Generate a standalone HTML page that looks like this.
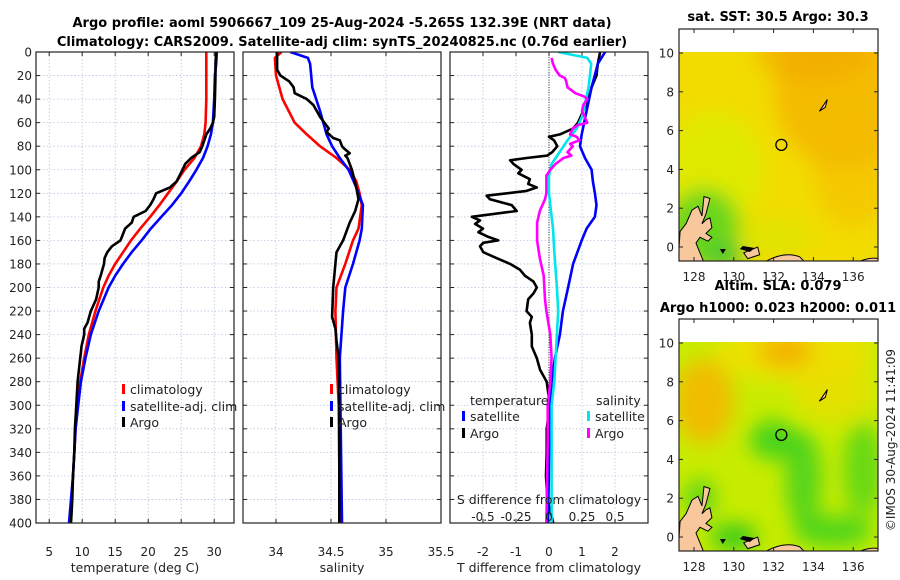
<!DOCTYPE html>
<html><head><meta charset="utf-8"><style>
html,body{margin:0;padding:0;background:#fff;}
svg{display:block;font-family:"DejaVu Sans","Liberation Sans",sans-serif;}
</style></head><body>
<svg id="fig" width="900" height="580" viewBox="0 0 900 580">
<defs>
<filter id="blur6" x="-20%" y="-20%" width="140%" height="140%"><feGaussianBlur stdDeviation="6"/></filter>
<filter id="blur10" x="-30%" y="-30%" width="160%" height="160%"><feGaussianBlur stdDeviation="10"/></filter>
<clipPath id="clipM1"><rect x="679" y="52" width="199" height="209"/></clipPath>
<clipPath id="clipM2"><rect x="679" y="342" width="199" height="209"/></clipPath>
<clipPath id="clipP1"><rect x="36" y="52" width="198" height="471"/></clipPath>
<clipPath id="clipP2"><rect x="243" y="52" width="198" height="471"/></clipPath>
<clipPath id="clipP3"><rect x="450" y="52" width="198" height="471"/></clipPath>
</defs>
<text x="342" y="27" text-anchor="middle" font-size="13" font-weight="bold">Argo profile: aoml 5906667_109 25-Aug-2024 -5.265S 132.39E (NRT data)</text>
<text x="342" y="46" text-anchor="middle" font-size="13" font-weight="bold">Climatology: CARS2009. Satellite-adj clim: synTS_20240825.nc (0.76d earlier)</text>
<g id="panels"></g>
<g id="maps"></g>
<text transform="translate(895,440) rotate(-90)" text-anchor="middle" font-size="12" fill="#222">©IMOS 30-Aug-2024 11:41:09</text>
</svg>
<script>
// ---------------- data ----------------
const yTicks = [0,20,40,60,80,100,120,140,160,180,200,220,240,260,280,300,320,340,360,380,400];
const tTicks = [5,10,15,20,25,30];
const sTicks = [34,34.5,35,35.5];
const sTickLabels = ["34","34.5","35","35.5"];
const dTicks = [-2,-1,0,1,2];
const dsTickLabels = ["-0.5","-0.25","0","0.25","0.5"];
const dsTickValues = [-0.5,-0.25,0,0.25,0.5];

const climTDepth = [0,10,20,40,60,70,80,90,100,110,120,130,140,150,160,170,180,190,200,220,240,260,280,300,320,340,360,380,400];
const climT = [28.8,28.8,28.8,28.8,28.7,28.5,28,27,25.5,24.3,23,21.7,20.3,18.8,17.4,16.2,15,14,13.2,12,11,10.3,9.7,9.3,9.0,8.8,8.6,8.4,8.2];
const satT = [30.4,30.3,30.1,30,29.8,29.5,29,28.3,27.3,26.2,25,23.6,22,20.4,19,17.5,16.2,15,14,12.5,11.3,10.5,9.8,9.4,9.0,8.8,8.6,8.3,8.0];
const argoTDepth = [0,10,20,40,55,60,65,70,80,85,90,95,100,110,115,120,125,130,135,140,145,150,160,165,170,175,180,190,195,200,210,220,230,235,240,250,255,260,270,280,300,320,340,360,380,400];
const argoT = [30.3,30.2,30.2,30.1,30,29.8,29.4,28.8,28.2,27.8,26.5,25.6,25.2,24.3,23.3,21.2,20.8,20.3,19.6,17.8,17.5,16.5,15.8,14.5,13.8,13.4,13.3,12.8,12.5,12.5,12.1,11.3,10.8,10.3,10.3,9.9,9.8,9.7,9.5,9.3,9.1,8.9,8.8,8.6,8.5,8.3];

const climSDepth = [0,5,20,40,60,70,80,90,100,110,120,130,150,160,180,200,220,260,300,400];
const climS = [34.05,33.99,34.0,34.06,34.17,34.28,34.40,34.55,34.67,34.73,34.76,34.78,34.75,34.70,34.63,34.55,34.54,34.55,34.57,34.58];
const satSDepth = [0,5,10,30,50,70,80,90,100,115,130,150,160,180,200,220,260,400];
const satS = [34.13,34.29,34.31,34.33,34.40,34.46,34.51,34.58,34.66,34.73,34.79,34.78,34.76,34.70,34.63,34.61,34.58,34.6];
const argoSDepth = [0,15,20,25,30,35,40,45,55,65,68,73,75,80,82,86,88,90,100,115,125,135,145,160,170,180,200,225,235,245,260,300,400];
const argoS = [34.01,34.01,34.04,34.12,34.16,34.17,34.28,34.34,34.40,34.48,34.46,34.52,34.58,34.60,34.62,34.67,34.63,34.65,34.69,34.73,34.75,34.72,34.67,34.61,34.55,34.54,34.52,34.51,34.54,34.55,34.57,34.575,34.575];

const satDTDepth = [0,10,30,50,70,80,90,100,110,120,130,140,150,160,180,200,220,240,260,280,300,400];
const satDT = [1.7,1.48,1.29,1.14,0.99,0.94,1.09,1.29,1.33,1.39,1.44,1.39,1.14,0.99,0.73,0.58,0.42,0.33,0.18,0.08,0.03,-0.03];
const argoDTDepth = [0,10,20,30,40,50,60,65,70,72,75,80,85,88,90,92,95,100,103,108,112,115,118,120,122,125,130,135,140,143,146,150,153,157,160,162,165,170,175,180,185,190,195,200,205,210,220,225,230,240,250,260,270,280,290,300,310,320,330,340,360,380,400];
const argoDT = [1.55,1.48,1.44,1.29,1.19,1.04,0.88,0.73,0.33,0,0.15,0.25,0.1,-0.05,-0.68,-1.18,-1.08,-0.83,-0.93,-0.58,-0.63,-0.37,-0.68,-1.28,-1.89,-1.79,-1.13,-0.98,-2.34,-2.09,-2.24,-2.0,-2.14,-1.84,-1.54,-1.99,-2.09,-1.99,-1.59,-1.18,-0.88,-0.73,-0.47,-0.37,-0.47,-0.63,-0.68,-0.52,-0.58,-0.52,-0.52,-0.37,-0.27,-0.07,-0.02,0.03,-0.02,-0.07,-0.07,-0.07,-0.09,-0.05,0.13];
const satDSDepth = [0,5,10,20,30,40,55,65,75,85,95,105,120,130,150,170,200,220,240,260,280,300,350,400];
const satDS = [0.07,0.29,0.32,0.31,0.30,0.28,0.25,0.21,0.14,0.08,0.02,0,0,0.01,0.03,0.04,0.06,0.07,0.06,0.05,0.04,0.02,0.02,0.02];
const argoDSDepth = [5,10,15,20,22,25,30,35,38,40,45,50,55,60,62,65,70,72,75,78,80,85,88,90,95,100,105,110,120,125,135,145,160,175,190,210,220,240,260,280,300,330,400];
const argoDS = [0.02,0.03,0.05,0.08,0.12,0.13,0.14,0.20,0.27,0.29,0.26,0.25,0.27,0.29,0.22,0.18,0.16,0.21,0.23,0.16,0.18,0.14,0.17,0.11,0.05,0.01,-0.02,-0.02,-0.02,-0.03,-0.07,-0.09,-0.09,-0.07,-0.04,-0.03,-0.02,0.01,0.02,0.01,-0.01,-0.01,-0.02];

const mapLonTicks = [128,130,132,134,136];
const mapLatTicks = [0,2,4,6,8,10];
const argoLon = 132.39, argoLat = 5.265;

// ---------------- helpers ----------------
const NS = "http://www.w3.org/2000/svg";
function mk(tag, attrs, parent){const e=document.createElementNS(NS,tag);for(const k in attrs)e.setAttribute(k,attrs[k]);parent.appendChild(e);return e;}
const yDepth = d => 52 + d*(471/400);
const panelsG = document.getElementById('panels');
const mapsG = document.getElementById('maps');

function panel(x0, name, xmin, xmax, xTickVals, xTickLabs, xlabel, showY){
  const g = mk('g',{},panelsG);
  
  
  const W=198, sx = v => x0 + (v-xmin)/(xmax-xmin)*W;
  // grid
  yTicks.forEach(d=>{const l=mk('line',{x1:x0,x2:x0+W,y1:yDepth(d),y2:yDepth(d),stroke:'#b8c4e0','stroke-width':0.8,'stroke-dasharray':'1.5,2'},g);
    
    });
  xTickVals.forEach(v=>{const l=mk('line',{x1:sx(v),x2:sx(v),y1:52,y2:523,stroke:'#b8c4e0','stroke-width':0.8,'stroke-dasharray':'1.5,2'},g);
    
    });
  // ticks
  yTicks.forEach(d=>{mk('line',{x1:x0,x2:x0+4,y1:yDepth(d),y2:yDepth(d),stroke:'#222'},g);mk('line',{x1:x0+W-4,x2:x0+W,y1:yDepth(d),y2:yDepth(d),stroke:'#222'},g);
    if(showY){const t=mk('text',{x:x0-4,y:yDepth(d)+4.5,'text-anchor':'end','font-size':12,fill:'#222'},g);t.textContent=d;
      
      }});
  xTickVals.forEach((v,i)=>{mk('line',{x1:sx(v),x2:sx(v),y1:519,y2:523,stroke:'#222'},g);mk('line',{x1:sx(v),x2:sx(v),y1:52,y2:56,stroke:'#222'},g);
    if(xTickLabs){const t=mk('text',{x:sx(v),y:556,'text-anchor':'middle','font-size':12,fill:'#222'},g);t.textContent=xTickLabs[i];
      
      }});
  const xl=mk('text',{x:x0+W/2,y:572,'text-anchor':'middle','font-size':12.5,fill:'#222'},g);xl.textContent=xlabel;
  
  
  return {g,sx};
}
function line(p, clip, xs, ds, sxf, color, name, w){
  const pts = xs.map((v,i)=>sxf(v).toFixed(1)+','+yDepth(ds[i]).toFixed(1)).join(' ');
  const e = mk('polyline',{points:pts,fill:'none',stroke:color,'stroke-width':w||2.6,'stroke-linejoin':'round','clip-path':'url(#'+clip+')'},p);
  
  
}
function frame(p,x0){const r=mk('rect',{x:x0,y:52,width:198,height:471,fill:'none',stroke:'#222','stroke-width':1.2},p);
  
  }
function legendItem(p,x,y,color,label){
  mk('rect',{x:x,y:y-10,width:3,height:10,fill:color},p);
  const t=mk('text',{x:x+8,y:y,'font-size':12.5,fill:'#222'},p);t.textContent=label;
  
  
}

// Panel 1: temperature
const P1 = panel(36,'temperature-panel',3,33,tTicks,tTicks.map(String),'temperature (deg C)',true);
line(P1.g,'clipP1',climT,climTDepth,P1.sx,'#ff0000','climatology-temp-line');
line(P1.g,'clipP1',satT,climTDepth,P1.sx,'#0000ff','satellite-temp-line');
line(P1.g,'clipP1',argoT,argoTDepth,P1.sx,'#000000','argo-temp-line');
frame(P1.g,36);
legendItem(P1.g,122,394,'#ff0000','climatology');
legendItem(P1.g,122,411,'#0000ff','satellite-adj. clim');
legendItem(P1.g,122,427,'#000000','Argo');

// Panel 2: salinity
const P2 = panel(243,'salinity-panel',33.7,35.5,sTicks,sTickLabels,'salinity',false);
line(P2.g,'clipP2',climS,climSDepth,P2.sx,'#ff0000','climatology-salinity-line');
line(P2.g,'clipP2',satS,satSDepth,P2.sx,'#0000ff','satellite-salinity-line');
line(P2.g,'clipP2',argoS,argoSDepth,P2.sx,'#000000','argo-salinity-line');
frame(P2.g,243);
legendItem(P2.g,330,394,'#ff0000','climatology');
legendItem(P2.g,330,411,'#0000ff','satellite-adj. clim');
legendItem(P2.g,330,427,'#000000','Argo');

// Panel 3: differences
const P3 = panel(450,'difference-panel',-3,3,dTicks,dTicks.map(String),'T difference from climatology',false);
const sxS = v => 549 + v*132;
const zl=mk('line',{x1:549,x2:549,y1:52,y2:523,stroke:'#333','stroke-width':1,'stroke-dasharray':'1,1.5'},P3.g);


line(P3.g,'clipP3',argoDT,argoDTDepth,P3.sx,'#000000','argo-temp-diff-line');
line(P3.g,'clipP3',satDT,satDTDepth,P3.sx,'#0000ff','satellite-temp-diff-line');
line(P3.g,'clipP3',satDS,satDSDepth,sxS,'#00e5ee','satellite-salinity-diff-line');
line(P3.g,'clipP3',argoDS,argoDSDepth,sxS,'#ff00ff','argo-salinity-diff-line');
frame(P3.g,450);
{const t=mk('text',{x:470,y:405,'font-size':12.5,fill:'#222'},P3.g);t.textContent='temperature';
 
 
 const t2=mk('text',{x:596,y:405,'font-size':12.5,fill:'#222'},P3.g);t2.textContent='salinity';
 
 }
legendItem(P3.g,462,421,'#0000ff','satellite');
legendItem(P3.g,462,438,'#000000','Argo');
legendItem(P3.g,587,421,'#00e5ee','satellite');
legendItem(P3.g,587,438,'#ff00ff','Argo');
{const t=mk('text',{x:549,y:504,'text-anchor':'middle','font-size':12.5,fill:'#222'},P3.g);t.textContent='S difference from climatology';
 
 
 dsTickValues.forEach((v,i)=>{const l=mk('text',{x:sxS(v),y:521,'text-anchor':'middle','font-size':12,fill:'#222'},P3.g);l.textContent=dsTickLabels[i];
   
   });}

// ---------------- maps ----------------
function map(top, name, clip, blobs, base){
  const g = mk('g',{},mapsG);
  
  
  const lx = lon => 694 + (lon-128)*19.9;
  const ly = lat => top + 195 - lat*19.4;
  const inner = mk('g',{'clip-path':'url(#'+clip+')'},g);
  mk('rect',{x:679,y:ly(10.1),width:199,height:top+209-ly(10.1)+25,fill:base},inner);
  const bg = mk('g',{filter:'url(#blur10)'},inner);
  blobs.forEach(b=>{mk('ellipse',{cx:lx(b[0]),cy:ly(b[1]),rx:b[2]*19.9,ry:b[3]*19.4,fill:b[4],opacity:b[5]},bg);});
  mk('rect',{x:679,y:top-30,width:199,height:ly(10.1)-top+30,fill:'#fff'},inner);
  // land
  const land = mk('g',{fill:'#f8c89c',stroke:'#000','stroke-width':1},inner);
  mk('path',{d:`M${lx(127.2)},${ly(-0.8)} L${lx(127.3)},${ly(0.8)} L${lx(127.6)},${ly(1.2)} L${lx(127.9)},${ly(1.9)} L${lx(128.2)},${ly(2.1)} L${lx(128.4)},${ly(1.6)} L${lx(128.5)},${ly(2.6)} L${lx(128.8)},${ly(2.5)} L${lx(128.6)},${ly(1.7)} L${lx(128.4)},${ly(1.2)} L${lx(128.6)},${ly(1.4)} L${lx(128.8)},${ly(1.5)} L${lx(128.9)},${ly(1.0)} L${lx(128.6)},${ly(0.7)} L${lx(128.9)},${ly(0.5)} L${lx(128.7)},${ly(0.3)} L${lx(128.3)},${ly(0.5)} L${lx(128.1)},${ly(0.2)} L${lx(128.3)},${ly(-0.3)} L${lx(128.5)},${ly(-0.8)} Z`},land);
  mk('path',{d:`M${lx(131.5)},${ly(-0.8)} Q${lx(132.5)},${ly(-0.2)} ${lx(133.3)},${ly(-0.5)} L${lx(133.6)},${ly(-0.8)} Z`},land);
  mk('path',{d:`M${lx(130.5)},${ly(-0.3)} L${lx(131.2)},${ly(0)} L${lx(131.3)},${ly(-0.4)} L${lx(130.7)},${ly(-0.6)} Z`},land);
  mk('path',{d:`M${lx(136.2)},${ly(-0.8)} Q${lx(136.8)},${ly(-0.5)} ${lx(137.3)},${ly(-0.6)} L${lx(137.3)},${ly(-0.8)} Z`},land);
  mk('path',{d:`M${lx(134.3)},${ly(7.0)} L${lx(134.7)},${ly(7.6)} L${lx(134.6)},${ly(7.2)} Z`},land);
  mk('path',{d:`M${lx(129.3)},${ly(-0.1)} l6,0 l-3,5 Z`,fill:'#000'},inner);
  mk('path',{d:`M${lx(130.3)},${ly(-0.1)} l10,3 l5,-4 l-12,-2 Z`,fill:'#000'},inner);
  const c=mk('circle',{cx:lx(argoLon),cy:ly(argoLat),r:5.5,fill:'none',stroke:'#000','stroke-width':1.3},g);
  
  
  const fr=mk('rect',{x:679,y:top-23,width:199,height:232,fill:'none',stroke:'#222','stroke-width':1.2},g);
  
  
  mapLonTicks.forEach(v=>{mk('line',{x1:lx(v),x2:lx(v),y1:top+209,y2:top+205,stroke:'#222'},g);mk('line',{x1:lx(v),x2:lx(v),y1:top-23,y2:top-19,stroke:'#222'},g);
    const t=mk('text',{x:lx(v),y:top+229,'text-anchor':'middle','font-size':12,fill:'#222'},g);t.textContent=v;
    
    });
  mapLatTicks.forEach(v=>{mk('line',{x1:679,x2:683,y1:ly(v),y2:ly(v),stroke:'#222'},g);mk('line',{x1:874,x2:878,y1:ly(v),y2:ly(v),stroke:'#222'},g);
    const t=mk('text',{x:674,y:ly(v)+4.5,'text-anchor':'end','font-size':12,fill:'#222'},g);t.textContent=v;
    
    });
  return g;
}
// blobs: [lon, lat, rx, ry, color, opacity]
const g1 = map(52,'sst-map','clipM1',[
  [135.5,8,3.5,4,'#f5b400',0.8],[134,10,3,1.5,'#f3a800',0.6],[136,4,2,3,'#f5bc00',0.6],
  [129,4,2.5,3,'#d8f000',0.7],[128.5,1,1.8,2,'#5cd420',0.9],[129.6,-0.5,1,0.6,'#20c040',0.8],[132,0.5,2,1,'#d0ec00',0.5]
],'#f2dc00');
const g2 = map(342,'sla-map','clipM2',[
  [133,9.5,4,1.5,'#f0e000',0.9],[132.6,9.6,1.4,0.9,'#f5b000',0.9],[128.5,7,1.5,2.2,'#f5b800',0.9],
  [135,7.5,2,1.5,'#f0dc00',0.7],[132,5,1.2,1,'#38d020',0.9],[133.5,3,0.9,2.5,'#40d020',0.85],
  [136.5,3.5,1,2.5,'#40d020',0.7],[135,0.3,2,0.8,'#30d020',0.8],[130,0,1.2,0.7,'#28c820',0.9],[128.3,2,0.8,1,'#48d020',0.8]
],'#c8ec00');
[['sst-map-title','sat. SST: 30.5 Argo: 30.3',778,21],['sla-map-title-line1','Altim. SLA: 0.079',778,290],['sla-map-title-line2','Argo h1000: 0.023 h2000: 0.011',778,312]].forEach(a=>{
  const t=mk('text',{x:a[2],y:a[3],'text-anchor':'middle','font-size':13,'font-weight':'bold'},mapsG);t.textContent=a[1];
  
  
});
</script>
</body></html>
